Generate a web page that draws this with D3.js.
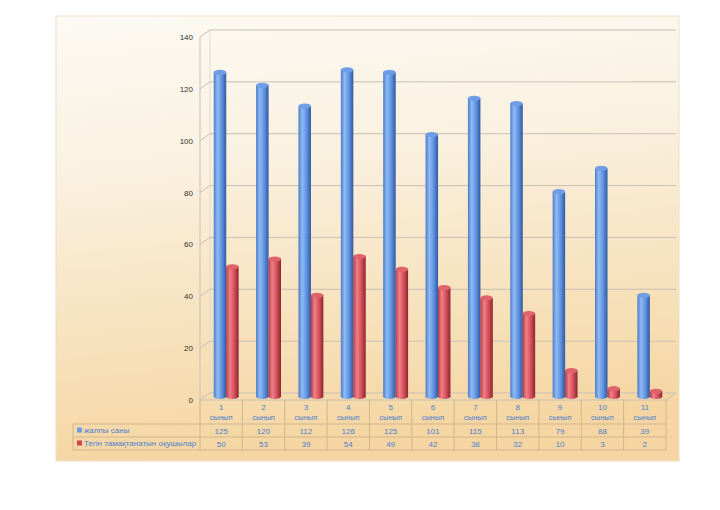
<!DOCTYPE html>
<html><head><meta charset="utf-8">
<script src="https://cdn.jsdelivr.net/npm/d3@7"></script>
<style>body{margin:0;background:#fff}svg{display:block}</style>
</head><body>
<svg id="c" width="720" height="510"></svg>
<script>
const categories = ["1","2","3","4","5","6","7","8","9","10","11"];
const catSuffix = "сынып";
const seriesNames = ["жалпы саны","Тегін тамақтанатын оқушылар"];
const totalValues = [125,120,112,126,125,101,115,113,79,88,39];
const freeMealValues = [50,53,39,54,49,42,38,32,10,3,2];
const yTicks = [0,20,40,60,80,100,120,140];

const svg = d3.select("#c");
const defs = svg.append("defs");
const font = "'Liberation Sans', Arial, sans-serif";

// background gradient
const bg = defs.append("linearGradient").attr("id","bg").attr("x1",0).attr("y1",0).attr("x2",0.15).attr("y2",1);
bg.append("stop").attr("offset","0%").attr("stop-color","#fcfaf4");
bg.append("stop").attr("offset","35%").attr("stop-color","#faf1e0");
bg.append("stop").attr("offset","100%").attr("stop-color","#f5d6a2");
svg.append("rect").attr("x",56).attr("y",16).attr("width",623).attr("height",445)
  .attr("fill","url(#bg)").attr("stroke","#ece0c6").attr("stroke-width",1);

function cylGrad(id, c){
  const g = defs.append("linearGradient").attr("id",id).attr("x1",0).attr("y1",0).attr("x2",1).attr("y2",0);
  g.append("stop").attr("offset","0%").attr("stop-color",c[0]);
  g.append("stop").attr("offset","30%").attr("stop-color",c[1]);
  g.append("stop").attr("offset","65%").attr("stop-color",c[2]);
  g.append("stop").attr("offset","100%").attr("stop-color",c[3]);
}
cylGrad("gBlue",["#4a7cc8","#8fbaf4","#5f92e0","#30599f"]);
cylGrad("gRed",["#b23a45","#f08088","#d5505a","#8a2630"]);

const x0 = 200, x1 = 666, dx = 10, dy = -7;
const yF = d3.scaleLinear().domain([0,140]).range([400,37]);
const xBand = d3.scaleBand().domain(categories).range([x0,x1]);

const grid = svg.append("g").attr("stroke","#c9bfb6").attr("stroke-width",1).attr("fill","none");
// floor
grid.append("path").attr("d",`M${x0},${yF(0)}L${x1},${yF(0)}L${x1+dx},${yF(0)+dy}L${x0+dx},${yF(0)+dy}Z`);
// left wall front edge
grid.append("line").attr("x1",x0).attr("x2",x0).attr("y1",yF(140)).attr("y2",yF(0));
grid.append("line").attr("x1",x0+dx).attr("x2",x0+dx).attr("y1",yF(140)+dy).attr("y2",yF(0)+dy).attr("stroke","#e2dbd0");
yTicks.forEach(v=>{
  if(v===0) return;
  grid.append("path").attr("d",`M${x0},${yF(v)}L${x0+dx},${yF(v)+dy}L${x1+dx},${yF(v)+dy}`);
});
// y labels
svg.append("g").selectAll("text").data(yTicks).join("text")
  .attr("x",193).attr("y",d=>yF(d)+3).attr("text-anchor","end")
  .attr("font-family",font).attr("font-size",8).attr("fill","#333").text(d=>d);

// bars
const bw = 12.5, ry = 2.6;
const yB = d3.scaleLinear().domain([0,140]).range([yF(0)+dy/2, yF(140)+dy/2]);
function drawBars(vals, grad, top, offset){
  const g = svg.append("g");
  vals.forEach((v,i)=>{
    const cx = xBand(categories[i]) + xBand.bandwidth()/2 + dx/2 + offset;
    const yb = yB(0), yt = yB(v);
    g.append("ellipse").attr("cx",cx).attr("cy",yb).attr("rx",bw/2).attr("ry",ry).attr("fill",`url(#${grad})`);
    g.append("rect").attr("x",cx-bw/2).attr("y",yt).attr("width",bw).attr("height",yb-yt).attr("fill",`url(#${grad})`);
    g.append("ellipse").attr("cx",cx).attr("cy",yt).attr("rx",bw/2).attr("ry",ry).attr("fill",top);
  });
}
drawBars(totalValues,"gBlue","#6f9ee6",-6.2);
drawBars(freeMealValues,"gRed","#e0626b",6.2);

// data table
const tb = svg.append("g");
const rowY = [400,424,437,450];
const legX = 73;
const tStroke = "#d2b48c";
tb.append("line").attr("x1",legX).attr("x2",x1).attr("y1",rowY[1]).attr("y2",rowY[1]).attr("stroke",tStroke);
tb.append("line").attr("x1",legX).attr("x2",x1).attr("y1",rowY[2]).attr("y2",rowY[2]).attr("stroke",tStroke);
tb.append("line").attr("x1",legX).attr("x2",x1).attr("y1",rowY[3]).attr("y2",rowY[3]).attr("stroke",tStroke);
tb.append("line").attr("x1",legX).attr("x2",legX).attr("y1",rowY[1]).attr("y2",rowY[3]).attr("stroke",tStroke);
categories.forEach((c,i)=>{
  const xl = xBand(c);
  tb.append("line").attr("x1",xl).attr("x2",xl).attr("y1",rowY[0]).attr("y2",rowY[3]).attr("stroke",tStroke);
});
tb.append("line").attr("x1",x1).attr("x2",x1).attr("y1",rowY[0]).attr("y2",rowY[3]).attr("stroke",tStroke);
const blueTxt = "#4d7fcf";
categories.forEach((c,i)=>{
  const cx = xBand(c)+xBand.bandwidth()/2;
  tb.append("text").attr("x",cx).attr("y",410).attr("text-anchor","middle").attr("font-family",font).attr("font-size",8).attr("fill",blueTxt).text(c);
  tb.append("text").attr("x",cx).attr("y",420).attr("text-anchor","middle").attr("font-family",font).attr("font-size",7.5).attr("fill",blueTxt).text(catSuffix);
  tb.append("text").attr("x",cx).attr("y",433.5).attr("text-anchor","middle").attr("font-family",font).attr("font-size",8).attr("fill",blueTxt).text(totalValues[i]);
  tb.append("text").attr("x",cx).attr("y",446.5).attr("text-anchor","middle").attr("font-family",font).attr("font-size",8).attr("fill",blueTxt).text(freeMealValues[i]);
});
const legColors = ["#6f9be0","#d2434e"];
seriesNames.forEach((s,i)=>{
  const y = rowY[1+i]+6.5;
  tb.append("rect").attr("x",77).attr("y",y-3).attr("width",5).attr("height",5).attr("fill",legColors[i]);
  tb.append("text").attr("x",84).attr("y",y+2.5).attr("font-family",font).attr("font-size",8).attr("fill",blueTxt).text(s);
});
</script>
</body></html>
